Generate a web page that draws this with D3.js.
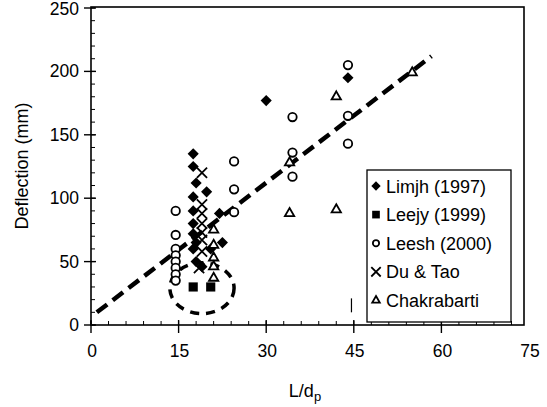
<!DOCTYPE html>
<html>
<head>
<meta charset="utf-8">
<script src="https://cdn.jsdelivr.net/npm/d3@7"></script>
<style>
    body { margin: 0; background: #fff; }
    text { font-family: "Liberation Sans", Arial, sans-serif; fill: #000; }
</style>
</head>
<body>
<div id="chart"></div>
<script>
// values, [L/dp, deflection in mm]
const limjh = [[30,177],[44,195],[17.5,135],[17.5,125],[18,112],[19.8,105],[17.5,101],
    [17.5,90],[17.5,80],[17.5,72],[18,65],[17.5,60],[18,50],[19,46],[22,88],[20.5,60],[22.5,65]];
const leejy = [[17.5,30],[20.5,30]];
const leesh = [[44,205],[44,165],[44,143],[34.5,164],[34.5,136],[34.5,117],[24.5,129],[24.5,107],
    [24.5,89],[14.5,90],[14.5,71],[14.5,60],[14.5,55],[14.5,50],[14.5,45],[14.5,40],[14.5,35]];
const duTao = [[19,120],[19,95],[19,88],[19,80],[19,73],[19,67],[19,58],[18.5,45]];
const chakrabarti = [[55,199],[42,180],[34,128],[34,88],[42,91],[21,75],[21,63],[21,53],[21,46],[21,37]];

const seriesNames = ["Limjh (1997)", "Leejy (1999)", "Leesh (2000)", "Du & Tao", "Chakrabarti"];
const fitLine = [[1,10],[58.3,212]];
const circled = [19, 29, 5.5, 20];   // cx, cy, rx, ry in data units
const stray = [[44.6,10],[44.6,21]];

const xTicks = [0,15,30,45,60,75];
const yTicks = [0,50,100,150,200,250];

class ScatterChart {
    constructor(parentElementID) {
        this.parentElementID = parentElementID;
    }

    initVis() {
        let vis = this;
        vis.margin = {top: 7, left: 91};
        vis.svg = d3.select("#" + vis.parentElementID).append("svg")
            .attr("width", 547)
            .attr("height", 407);

        vis.xScale = d3.scaleLinear().domain([0, 75]).range([91, 529]);
        vis.yScale = d3.scaleLinear().domain([0, 250]).range([325, 8]);
        vis.frameRight = 524;
        vis.frameBottom = 325;
    }

    drawAxes() {
        let vis = this;
        let x = vis.xScale, y = vis.yScale;
        let g = vis.svg.append("g").attr("stroke", "#000");

        // frame
        g.append("rect")
            .attr("x", vis.margin.left).attr("y", vis.margin.top)
            .attr("width", vis.frameRight - vis.margin.left)
            .attr("height", vis.frameBottom - vis.margin.top)
            .attr("fill", "none").attr("stroke-width", 1.6);

        // minor ticks point inward
        g.selectAll(".ymin").data(d3.range(0, 251, 10)).enter().append("line")
            .attr("x1", 91).attr("x2", 95)
            .attr("y1", d => y(d)).attr("y2", d => y(d)).attr("stroke-width", 1);
        g.selectAll(".xmin").data(d3.range(0, 73, 3)).enter().append("line")
            .attr("x1", d => x(d)).attr("x2", d => x(d))
            .attr("y1", 325).attr("y2", 321).attr("stroke-width", 1);

        // major ticks cross the axis
        g.selectAll(".ymaj").data(yTicks).enter().append("line")
            .attr("x1", 84).attr("x2", 96)
            .attr("y1", d => y(d)).attr("y2", d => y(d)).attr("stroke-width", 1.4);
        g.selectAll(".xmaj").data(xTicks.filter(d => d < 75)).enter().append("line")
            .attr("x1", d => x(d)).attr("x2", d => x(d))
            .attr("y1", 320).attr("y2", 333).attr("stroke-width", 1.4);

        vis.svg.selectAll(".ylab").data(yTicks).enter().append("text")
            .attr("x", 79).attr("y", d => Math.max(y(d) + 6, 15))
            .attr("text-anchor", "end")
            .style("font-size", "17.5px")
            .text(d => d);
        vis.svg.selectAll(".xlab").data(xTicks).enter().append("text")
            .attr("x", d => x(d) + 1).attr("y", 357)
            .attr("text-anchor", "middle")
            .style("font-size", "17.5px")
            .text(d => d);

        vis.svg.append("text")
            .attr("transform", "translate(28,166) rotate(-90)")
            .attr("text-anchor", "middle")
            .style("font-size", "18px")
            .text("Deflection (mm)");

        let xt = vis.svg.append("text")
            .attr("x", 305).attr("y", 397)
            .attr("text-anchor", "middle")
            .style("font-size", "18px");
        xt.append("tspan").text("L/d");
        xt.append("tspan").attr("dy", 4).style("font-size", "13px").text("p");
    }

    updateVis() {
        let vis = this;
        let x = vis.xScale, y = vis.yScale;

        // fitted trend line and the circled Leejy points
        vis.svg.append("path")
            .attr("d", d3.line().x(d => x(d[0])).y(d => y(d[1]))(fitLine))
            .attr("stroke", "#000").attr("stroke-width", 4.5)
            .attr("stroke-dasharray", "13,7").attr("fill", "none");

        vis.svg.append("ellipse")
            .attr("cx", x(circled[0])).attr("cy", y(circled[1]))
            .attr("rx", x(circled[0] + circled[2]) - x(circled[0]))
            .attr("ry", y(circled[1]) - y(circled[1] + circled[3]))
            .attr("stroke", "#000").attr("stroke-width", 3.5)
            .attr("stroke-dasharray", "9,7").attr("fill", "none");

        vis.svg.append("path")
            .attr("d", d3.line().x(d => x(d[0])).y(d => y(d[1]))(stray))
            .attr("stroke", "#000").attr("stroke-width", 1.2);

        vis.markers = [
            {data: limjh, sym: d3.symbol().type(d3.symbolSquare).size(62), rot: 45, fill: "#000", stroke: "none", sw: 0},
            {data: leejy, sym: d3.symbol().type(d3.symbolSquare).size(84), rot: 0, fill: "#000", stroke: "none", sw: 0},
            {data: leesh, sym: d3.symbol().type(d3.symbolCircle).size(56), rot: 0, fill: "#fff", stroke: "#000", sw: 1.8},
            {data: duTao, sym: d3.symbol().type(d3.symbolTimes).size(70), rot: 0, fill: "none", stroke: "#000", sw: 1.8},
            {data: chakrabarti, sym: d3.symbol().type(d3.symbolTriangle2).size(62), rot: 0, fill: "#fff", stroke: "#000", sw: 1.8}
        ];

        vis.markers.forEach((m, i) => {
            vis.svg.append("g").attr("class", "series-" + i)
                .selectAll("path").data(m.data).enter().append("path")
                .attr("d", m.sym())
                .attr("transform", d => "translate(" + x(d[0]) + "," + y(d[1]) + ") rotate(" + m.rot + ")")
                .attr("fill", m.fill).attr("stroke", m.stroke).attr("stroke-width", m.sw);
        });

        // legend
        let legend = vis.svg.append("g").attr("class", "legend");
        legend.append("rect")
            .attr("x", 367).attr("y", 170).attr("width", 144).attr("height", 152)
            .attr("fill", "#fff").attr("stroke", "#000").attr("stroke-width", 1.3);

        let rowY = i => 186 + i * 28.6;
        seriesNames.forEach((name, i) => {
            let m = vis.markers[i];
            let small = [0.7, 0.7, 0.55, 0.85, 0.65][i];
            legend.append("path")
                .attr("d", m.sym.size(m.sym.size()() * small)())
                .attr("transform", "translate(376," + rowY(i) + ") rotate(" + m.rot + ")")
                .attr("fill", m.fill).attr("stroke", m.stroke).attr("stroke-width", m.sw);
            legend.append("text")
                .attr("x", 386).attr("y", rowY(i) + 6.5)
                .style("font-size", "18px")
                .text(name);
        });
    }
}

let chart = new ScatterChart("chart");
chart.initVis();
chart.drawAxes();
chart.updateVis();
</script>
</body>
</html>
